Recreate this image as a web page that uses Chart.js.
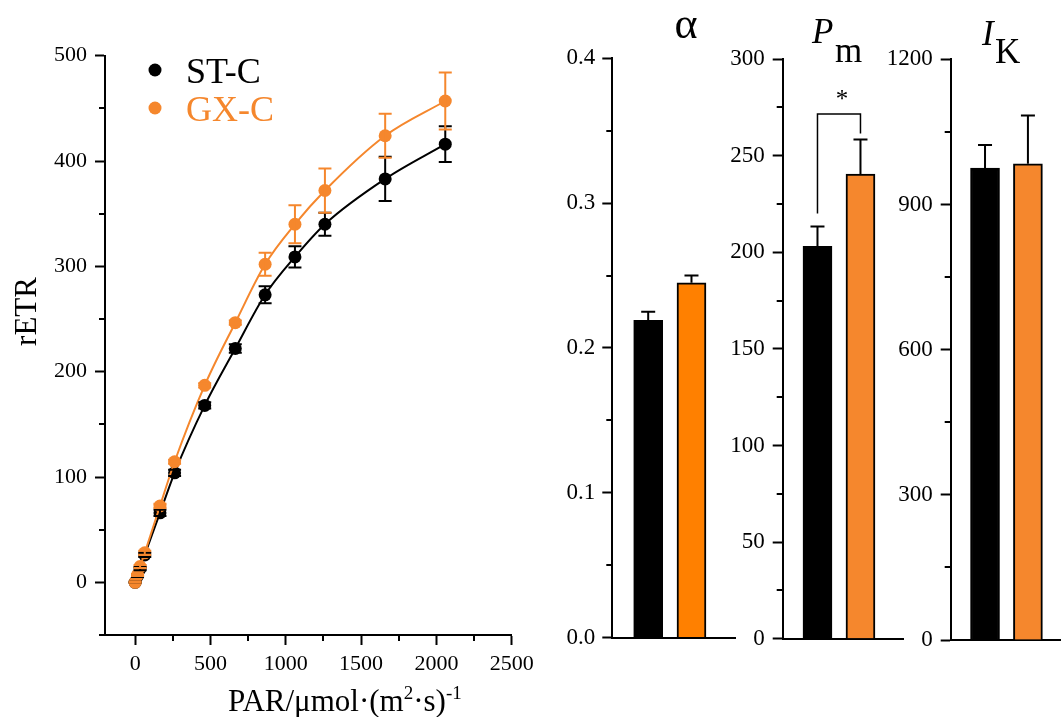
<!DOCTYPE html>
<html>
<head>
<meta charset="utf-8">
<script src="https://cdn.jsdelivr.net/npm/chart.js@4.4.1/dist/chart.umd.min.js"></script>
<style>
  html, body { margin: 0; padding: 0; background: #fff; }
  #wrap { position: relative; width: 1061px; height: 717px; overflow: hidden; background: #fff; }
  #wrap canvas { position: absolute; top: 0; }
</style>
</head>
<body>
<div id="wrap">
  <canvas id="curveChart" width="560" height="717" style="left:0px;width:560px;height:717px"></canvas>
  <canvas id="alphaChart" width="195" height="717" style="left:545px;width:195px;height:717px"></canvas>
  <canvas id="pmChart" width="195" height="717" style="left:715px;width:195px;height:717px"></canvas>
  <canvas id="ikChart" width="191" height="717" style="left:870px;width:191px;height:717px"></canvas>
</div>
<script>
// ---------------------------------------------------------------
// DỮ LIỆU
// ---------------------------------------------------------------
const groups = ["ST-C", "GX-C"];

// đường cong quang hợp rETR - PAR
const par = [0, 16, 33, 64, 165, 262, 462, 665, 863, 1061, 1260, 1660, 2059];
const etrST = [0, 6, 13, 26, 66, 104, 168, 222, 273, 309, 340, 383, 416];
const etrSTErr = [0.5, 1, 1.5, 2, 3, 3, 3, 4, 8, 10, 11, 21, 17];
const etrGX = [0, 7, 15, 28, 72.5, 114.5, 187, 246.5, 302, 340, 372, 424, 457];
const etrGXErr = [0.5, 1, 1.5, 2, 2, 2, 2, 2, 11, 18, 21, 21, 27];
const parTicks = [0, 500, 1000, 1500, 2000, 2500];
const parMinor = [250, 750, 1250, 1750, 2250];
const etrTicks = [0, 100, 200, 300, 400, 500];
const etrMinor = [-50, 50, 150, 250, 350, 450];

// alpha
const alphaVals = [0.219, 0.245];
const alphaErr = [0.006, 0.005];
const alphaTicks = [0, 0.1, 0.2, 0.3, 0.4];
const alphaMinor = [0.05, 0.15, 0.25, 0.35];

// Pm
const pmVals = [203, 240.5];
const pmErr = [10.3, 17.9];
const pmTicks = [0, 50, 100, 150, 200, 250, 300];
const pmMinor = [25, 75, 125, 175, 225, 275];
const pmBracket = [220, 271.5, 261.5]; // chân trái, đỉnh, chân phải
const pmSig = "*";

// IK
const ikVals = [975, 984];
const ikErr = [48, 100];
const ikTicks = [0, 300, 600, 900, 1200];
const ikMinor = [150, 450, 750, 1050];

// ---------------------------------------------------------------
// CẤU HÌNH CHUNG
// ---------------------------------------------------------------
const SERIF = "'Liberation Serif', 'Times New Roman', serif";
const BLACK = "#000000";
const ORANGE = "#F5872D";
const ORANGE_ALPHA = "#FF8000";

Chart.defaults.font.family = SERIF;
Chart.defaults.color = BLACK;
Chart.defaults.animation = false;

// vạch chia phụ (minor ticks)
const minorTicks = {
  id: "minorTicks",
  afterDraw(chart, args, opts) {
    const ctx = chart.ctx;
    ctx.save();
    ctx.strokeStyle = BLACK;
    ctx.lineWidth = 2;
    (opts.list || []).forEach((m) => {
      const sc = chart.scales[m.axis];
      m.values.forEach((v) => {
        const p = Math.round(sc.getPixelForValue(v));
        ctx.beginPath();
        if (sc.isHorizontal()) {
          ctx.moveTo(p, sc.top);
          ctx.lineTo(p, sc.top + 6);
        } else {
          ctx.moveTo(sc.right, p);
          ctx.lineTo(sc.right - 6, p);
        }
        ctx.stroke();
      });
    });
    ctx.restore();
  },
};

// thanh sai số
const errorBars = {
  id: "errorBars",
  afterDatasetsDraw(chart) {
    const ctx = chart.ctx;
    const ys = chart.scales.y;
    chart.data.datasets.forEach((ds, i) => {
      if (!ds.errors) return;
      const meta = chart.getDatasetMeta(i);
      ctx.save();
      ctx.strokeStyle = ds.errorColor;
      ctx.lineWidth = 2;
      meta.data.forEach((el, j) => {
        const d = ds.data[j];
        const val = typeof d === "object" ? d.y : d;
        const err = ds.errors[j];
        const x = el.x;
        const top = ys.getPixelForValue(val + err);
        const bot = ds.errorUpOnly ? ys.getPixelForValue(val) : ys.getPixelForValue(val - err);
        const cw = ds.capWidth || 6.5;
        ctx.beginPath();
        ctx.moveTo(x, bot);
        ctx.lineTo(x, top);
        ctx.moveTo(x - cw, top);
        ctx.lineTo(x + cw, top);
        if (!ds.errorUpOnly) {
          ctx.moveTo(x - cw, bot);
          ctx.lineTo(x + cw, bot);
        }
        ctx.stroke();
      });
      ctx.restore();
    });
  },
};

function fixTicks(values) {
  return (scale) => {
    scale.ticks = values.map((v) => ({ value: v }));
  };
}

function yAxis(min, max, ticks, width, fmt, pad, size) {
  return {
    type: "linear",
    min: min,
    max: max,
    afterBuildTicks: fixTicks(ticks),
    afterFit: (s) => { s.width = width; },
    grid: { display: true, drawOnChartArea: false, drawTicks: true, tickLength: 10, tickWidth: 2, tickColor: BLACK },
    border: { display: true, color: BLACK, width: 2 },
    ticks: { font: { size: size }, color: BLACK, padding: pad, autoSkip: false, callback: fmt },
  };
}

function barXAxis(min, max, height) {
  return {
    type: "linear",
    min: min,
    max: max,
    offset: false,
    afterFit: (s) => { s.height = height; },
    grid: { display: false },
    border: { display: true, color: BLACK, width: 2 },
    ticks: { display: false },
  };
}

// ---------------------------------------------------------------
// 1. ĐƯỜNG CONG rETR - PAR
// ---------------------------------------------------------------
const curveText = {
  id: "curveText",
  afterDraw(chart) {
    const ctx = chart.ctx;
    ctx.save();
    // chú giải
    const legendRows = [
      { name: groups[0], color: BLACK, y: 70 },
      { name: groups[1], color: ORANGE, y: 108 },
    ];
    legendRows.forEach((r) => {
      ctx.fillStyle = r.color;
      ctx.beginPath();
      ctx.arc(155, r.y, 6.5, 0, Math.PI * 2);
      ctx.fill();
      ctx.font = "36px " + SERIF;
      ctx.textBaseline = "alphabetic";
      ctx.textAlign = "left";
      ctx.fillText(r.name, 186, r.y + 12.5);
    });
    // tiêu đề trục y
    ctx.fillStyle = BLACK;
    ctx.translate(36, 311.5);
    ctx.rotate(-Math.PI / 2);
    ctx.font = "31px " + SERIF;
    ctx.textAlign = "center";
    ctx.fillText("rETR", 0, 0);
    ctx.setTransform(1, 0, 0, 1, 0, 0);
    // tiêu đề trục x có chỉ số trên
    const parts = [
      { t: "PAR/\u03bcmol\u00b7(m", sup: false },
      { t: "2", sup: true },
      { t: "\u00b7s)", sup: false },
      { t: "-1", sup: true },
    ];
    let x = 228;
    const base = 711;
    ctx.textAlign = "left";
    parts.forEach((p) => {
      ctx.font = (p.sup ? "19px " : "31px ") + SERIF;
      ctx.fillText(p.t, x, p.sup ? base - 12 : base);
      x += ctx.measureText(p.t).width;
    });
    ctx.restore();
  },
};

new Chart(document.getElementById("curveChart"), {
  type: "scatter",
  data: {
    datasets: [
      {
        label: groups[0],
        data: par.map((x, i) => ({ x: x, y: etrST[i] })),
        errors: etrSTErr,
        errorColor: BLACK,
        showLine: true,
        cubicInterpolationMode: "monotone",
        borderColor: BLACK,
        borderWidth: 2,
        pointRadius: 6.5,
        pointBorderWidth: 0,
        pointBackgroundColor: BLACK,
        order: 1,
      },
      {
        label: groups[1],
        data: par.map((x, i) => ({ x: x, y: etrGX[i] })),
        errors: etrGXErr,
        errorColor: ORANGE,
        showLine: true,
        cubicInterpolationMode: "monotone",
        borderColor: ORANGE,
        borderWidth: 2,
        pointRadius: 6.5,
        pointBorderWidth: 0,
        pointBackgroundColor: ORANGE,
        order: 0,
      },
    ],
  },
  options: {
    responsive: false,
    layout: { padding: { left: 0, top: 55.7, right: 48.3, bottom: 0 } },
    plugins: {
      legend: { display: false },
      tooltip: { enabled: false },
      minorTicks: { list: [{ axis: "x", values: parMinor }, { axis: "y", values: etrMinor }] },
    },
    scales: {
      x: {
        type: "linear",
        min: -200,
        max: 2500,
        afterBuildTicks: fixTicks(parTicks),
        afterFit: (s) => { s.height = 82; },
        grid: { display: true, drawOnChartArea: false, drawTicks: true, tickLength: 10, tickWidth: 2, tickColor: BLACK },
        border: { display: true, color: BLACK, width: 2 },
        ticks: { font: { size: 22 }, color: BLACK, padding: 6, maxRotation: 0, autoSkip: false, callback: (v) => String(v) },
      },
      y: yAxis(-50, 500, etrTicks, 105, (v) => String(v), 8, 22),
    },
  },
  plugins: [minorTicks, errorBars, curveText],
});

// ---------------------------------------------------------------
// 2. CÁC CỘT: alpha, Pm, IK
// ---------------------------------------------------------------
function barDataset(vals, errs, colors) {
  return {
    data: vals.map((v, i) => ({ x: i + 1, y: v })),
    backgroundColor: colors,
    borderColor: BLACK,
    borderWidth: 2,
    borderSkipped: "bottom",
    barThickness: 29,
    errors: errs,
    errorColor: BLACK,
    errorUpOnly: true,
    capWidth: 7,
  };
}

// alpha
new Chart(document.getElementById("alphaChart"), {
  type: "bar",
  data: { datasets: [barDataset(alphaVals, alphaErr, [BLACK, ORANGE_ALPHA])] },
  options: {
    responsive: false,
    layout: { padding: { left: 0, top: 58.3, right: 5, bottom: 0 } },
    plugins: {
      legend: { display: false },
      tooltip: { enabled: false },
      minorTicks: { list: [{ axis: "y", values: alphaMinor }] },
    },
    scales: {
      x: barXAxis(0.171, 3.005, 79.5),
      y: yAxis(0, 0.4, alphaTicks, 67.3, (v) => v.toFixed(1), 7, 23),
    },
  },
  plugins: [minorTicks, errorBars, {
    id: "alphaTitle",
    afterDraw(chart) {
      const ctx = chart.ctx;
      ctx.save();
      ctx.fillStyle = BLACK;
      ctx.font = "44px " + SERIF;
      ctx.textAlign = "center";
      ctx.fillText("\u03b1", chart.chartArea.left + 73.7, 38);
      ctx.restore();
    },
  }],
});

// Pm
new Chart(document.getElementById("pmChart"), {
  type: "bar",
  data: { datasets: [barDataset(pmVals, pmErr, [BLACK, ORANGE])] },
  options: {
    responsive: false,
    layout: { padding: { left: 0, top: 59, right: 6.7, bottom: 0 } },
    plugins: {
      legend: { display: false },
      tooltip: { enabled: false },
      minorTicks: { list: [{ axis: "y", values: pmMinor }] },
    },
    scales: {
      x: barXAxis(0.191, 2.996, 78.3),
      y: yAxis(0, 300, pmTicks, 67.7, (v) => String(v), 8, 23),
    },
  },
  plugins: [minorTicks, errorBars, {
    id: "pmText",
    afterDraw(chart) {
      const ctx = chart.ctx;
      const xs = chart.scales.x, ys = chart.scales.y;
      const left = chart.chartArea.left;
      ctx.save();
      ctx.fillStyle = BLACK;
      ctx.font = "italic 35px " + SERIF;
      ctx.fillText("P", left + 29.3, 42.7);
      ctx.font = "35px " + SERIF;
      ctx.fillText("m", left + 52.3, 61.7);
      // dấu khác biệt có ý nghĩa
      const x1 = xs.getPixelForValue(1), x2 = xs.getPixelForValue(2);
      ctx.strokeStyle = BLACK;
      ctx.lineWidth = 1.5;
      ctx.beginPath();
      ctx.moveTo(x1, ys.getPixelForValue(pmBracket[0]));
      ctx.lineTo(x1, ys.getPixelForValue(pmBracket[1]));
      ctx.lineTo(x2, ys.getPixelForValue(pmBracket[1]));
      ctx.lineTo(x2, ys.getPixelForValue(pmBracket[2]));
      ctx.stroke();
      ctx.font = "25px " + SERIF;
      ctx.textAlign = "center";
      ctx.fillText(pmSig, (x1 + x2) / 2 + 3, 107);
      ctx.restore();
    },
  }],
});

// IK
new Chart(document.getElementById("ikChart"), {
  type: "bar",
  data: { datasets: [barDataset(ikVals, ikErr, [BLACK, ORANGE])] },
  options: {
    responsive: false,
    layout: { padding: { left: 0, top: 59.3, right: 0, bottom: 0 } },
    plugins: {
      legend: { display: false },
      tooltip: { enabled: false },
      minorTicks: { list: [{ axis: "y", values: ikMinor }] },
    },
    scales: {
      x: barXAxis(0.2, 2.771, 77),
      y: yAxis(0, 1200, ikTicks, 80.7, (v) => String(v), 8, 23),
    },
  },
  plugins: [minorTicks, errorBars, {
    id: "ikTitle",
    afterDraw(chart) {
      const ctx = chart.ctx;
      const left = chart.chartArea.left;
      ctx.save();
      ctx.fillStyle = BLACK;
      ctx.font = "italic 35px " + SERIF;
      ctx.fillText("I", left + 31.3, 45);
      ctx.font = "35px " + SERIF;
      ctx.fillText("K", left + 44.3, 63.3);
      ctx.restore();
    },
  }],
});
</script>
</body>
</html>
